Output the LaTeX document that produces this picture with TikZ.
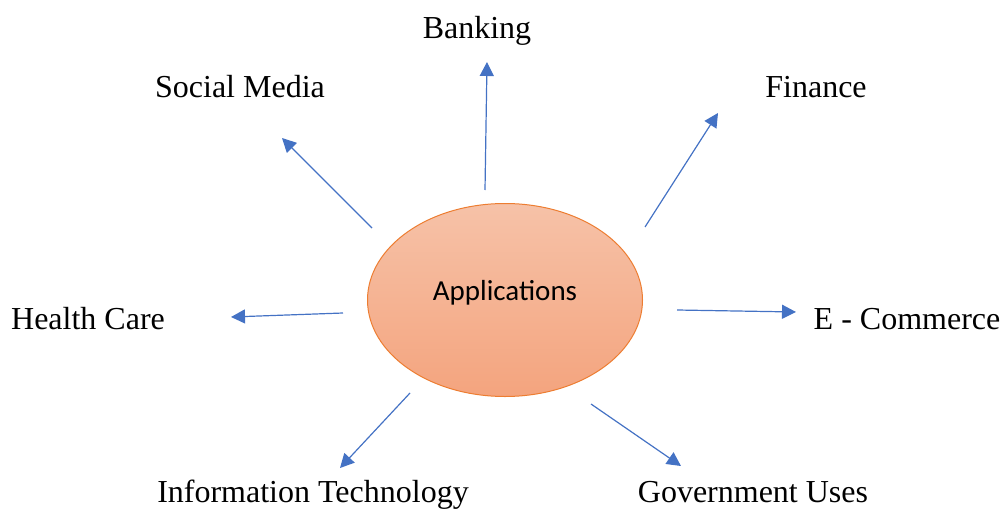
\documentclass[tikz,border=0pt]{standalone}
\usepackage{fontspec}
\setmainfont{Liberation Serif}
\newfontfamily\calibri{Carlito}
\usetikzlibrary{arrows.meta, shapes}

\definecolor{arrowblue}{HTML}{4472C4}
\definecolor{ovalline}{HTML}{ED7D31}
\definecolor{ovaltop}{HTML}{F6C2A8}
\definecolor{ovalbottom}{HTML}{F4A47E}

\begin{document}
\begin{tikzpicture}[x=1pt, y=-1pt,
    area/.style={font=\fontsize{32}{38}\selectfont, inner sep=0pt, anchor=base},
    link/.style={draw=arrowblue, line width=1.2pt, -{Triangle[length=14pt, width=14pt]}}]
        \useasboundingbox (0,0) rectangle (1006,511);

        % Centre oval
        \node (apps) [draw=ovalline, line width=1pt, ellipse, minimum width=275pt, minimum height=193pt,
            top color=ovaltop, bottom color=ovalbottom] at (505,300) {};
        \node (appstext) [font=\calibri\fontsize{29}{34}\selectfont, inner sep=0pt, anchor=base] at (505,300) {Applications};

        % Application areas
        \node (banking) [area] at (477,38) {Banking};
        \node (social) [area] at (240,97) {Social Media};
        \node (finance) [area] at (816,97) {Finance};
        \node (health) [area] at (88,329) {Health Care};
        \node (ecommerce) [area] at (907,329) {E - Commerce};
        \node (infotech) [area] at (313,502) {Information Technology};
        \node (government) [area] at (753,502) {Government Uses};

        % Arrow ends
        \coordinate (bankingtail) at (485,190);
        \coordinate (bankinghead) at (487,62);
        \coordinate (socialtail) at (372,228);
        \coordinate (socialhead) at (282,138);
        \coordinate (financetail) at (645,227);
        \coordinate (financehead) at (718,113);
        \coordinate (healthtail) at (343,313);
        \coordinate (healthhead) at (231,317);
        \coordinate (ecommercetail) at (677,310);
        \coordinate (ecommercehead) at (796,312);
        \coordinate (infotechtail) at (410,393);
        \coordinate (infotechhead) at (340,468);
        \coordinate (governmenttail) at (591,404);
        \coordinate (governmenthead) at (681,466);

        % Arrows
        \draw[link] (bankingtail) -- (bankinghead);
        \draw[link] (socialtail) -- (socialhead);
        \draw[link] (financetail) -- (financehead);
        \draw[link] (healthtail) -- (healthhead);
        \draw[link] (ecommercetail) -- (ecommercehead);
        \draw[link] (infotechtail) -- (infotechhead);
        \draw[link] (governmenttail) -- (governmenthead);
    \end{tikzpicture}
\end{document}
